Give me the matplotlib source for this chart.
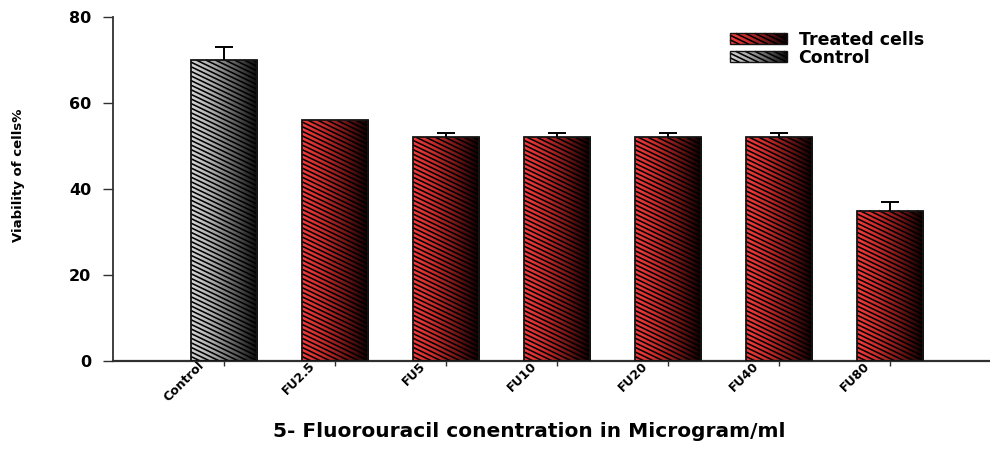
import numpy as np
import matplotlib
matplotlib.use("Agg")
import matplotlib.pyplot as plt
from matplotlib.patches import Rectangle
from matplotlib.collections import LineCollection
from matplotlib.colors import LinearSegmentedColormap
from matplotlib.legend_handler import HandlerBase
from matplotlib.transforms import ScaledTranslation

plt.rcParams['font.family'] = ['DejaVu Sans']

# ---- data -------------------------------------------------------------
categories = ["Control", "FU2.5", "FU5", "FU10", "FU20", "FU40", "FU80"]
viability = [70, 56, 52, 52, 52, 52, 35]
sem = [3, 0, 1, 1, 1, 1, 2]
is_control = [True, False, False, False, False, False, False]
legend_labels = ["Treated cells", "Control"]
yticks = [0, 20, 40, 60, 80]

# ---- style ------------------------------------------------------------
red_cmap = LinearSegmentedColormap.from_list(
    "redfade", ["#f43c3c", "#c42a2a", "#701414", "#080000"])
gray_cmap = LinearSegmentedColormap.from_list(
    "grayfade", ["#d6d6d6", "#a8a8a8", "#5c5c5c", "#080808"])

W, H, DPI = 9.9, 4.49, 100
fig = plt.figure(figsize=(W, H), dpi=DPI)
ax_left, ax_bottom, ax_w, ax_h = 113 / 990, 88 / 449, 877 / 990, 344 / 449
ax = fig.add_axes([ax_left, ax_bottom, ax_w, ax_h])

XMIN, XMAX = -1.0, 6.9
YMIN, YMAX = 0, 80
px_per_x = ax_w * W * DPI / (XMAX - XMIN)
px_per_y = ax_h * H * DPI / (YMAX - YMIN)

STRIPE_SLOPE = 0.48      # pixel drop per pixel to the right
STRIPE_PERIOD = 4.6      # vertical pixel spacing between stripes
STRIPE_LW = 1.15
BAR_W = 0.6


def stripe_segments(x0, y0, w, h, slope, period):
    """Diagonal stripes clipped to the rectangle (x0, y0, w, h), in isotropic units."""
    segs = []
    c = 0.0
    top = h + slope * w
    while c <= top + period:
        xa = max(0.0, (c - h) / slope)
        xb = min(w, c / slope)
        if xb > xa:
            segs.append([(x0 + xa, y0 + c - slope * xa),
                         (x0 + xb, y0 + c - slope * xb)])
        c += period
    return segs


def draw_bar(xc, value, cmap):
    x0 = xc - BAR_W / 2
    grad = np.linspace(0, 1, 256).reshape(1, -1)
    rect = Rectangle((x0, 0), BAR_W, value, facecolor="none",
                     edgecolor="#151515", lw=1.3, zorder=3)
    ax.add_patch(rect)
    im = ax.imshow(grad, cmap=cmap, extent=[x0, x0 + BAR_W, 0, value],
                   aspect="auto", interpolation="bilinear", zorder=2)
    im.set_clip_path(rect)
    # stripes computed in pixel space then mapped back to data units
    wpx, hpx = BAR_W * px_per_x, value * px_per_y
    segs_px = stripe_segments(0, 0, wpx, hpx, STRIPE_SLOPE, STRIPE_PERIOD)
    segs = [[(x0 + p[0] / px_per_x, p[1] / px_per_y) for p in s] for s in segs_px]
    lc = LineCollection(segs, colors="black", linewidths=STRIPE_LW, zorder=2.5)
    ax.add_collection(lc)


x = np.arange(len(categories))
for xi, v, ctl in zip(x, viability, is_control):
    draw_bar(xi, v, gray_cmap if ctl else red_cmap)

# upper error bars only
err_mask = np.array(sem) > 0
eb = ax.errorbar(x[err_mask], np.array(viability)[err_mask],
                 yerr=[np.zeros(err_mask.sum()), np.array(sem)[err_mask]],
                 fmt="none", ecolor="black", elinewidth=1.4,
                 capsize=6.8, capthick=1.4, zorder=4)
for cap in eb[1]:
    if np.allclose(cap.get_ydata(), np.array(viability)[err_mask]):
        cap.set_visible(False)
    else:
        cap.set_color("#606060")

ax.set_xlim(XMIN, XMAX)
ax.set_ylim(YMIN, YMAX)

# ---- axes styling -----------------------------------------------------
for side in ("top", "right"):
    ax.spines[side].set_visible(False)
ax.spines["left"].set_color("#303030")
ax.spines["left"].set_linewidth(1.3)
ax.spines["bottom"].set_color("#303030")
ax.spines["bottom"].set_linewidth(1.6)

ax.set_yticks(yticks)
ax.set_yticklabels([str(t) for t in yticks], fontsize=11.5, fontweight="bold")
ax.tick_params(axis="y", direction="out", length=7.2, width=1.0,
               color="#303030", pad=8.5)

ax.set_xticks(x)
ax.set_xticklabels(categories, rotation=45, ha="right", va="center",
                   rotation_mode="anchor", fontsize=9, fontweight="bold")
ax.tick_params(axis="x", direction="out", length=3.5, width=1.0,
               color="#303030", pad=-1.5)
shift = ScaledTranslation(-22 / 100, 0, fig.dpi_scale_trans)
for lbl in ax.get_xticklabels():
    lbl.set_transform(lbl.get_transform() + shift)

ax.set_xlabel("5- Fluorouracil conentration in Microgram/ml",
              fontsize=14.5, fontweight="bold", va="top")
ax.xaxis.set_label_coords((529 - 113) / 877, (361 - 422) / 344)
ax.set_ylabel("Viability of cells%", fontsize=9.5, fontweight="bold")
ax.yaxis.set_label_coords((25 - 113) / 877, (361 - 175) / 344)


# ---- legend -----------------------------------------------------------
class GradientStripeHandler(HandlerBase):
    def __init__(self, cmap):
        super().__init__()
        self.cmap = cmap

    def create_artists(self, legend, orig_handle, xdescent, ydescent,
                       width, height, fontsize, trans):
        x0, y0 = -xdescent, -ydescent
        arts = []
        n = 40
        for k in range(n):
            arts.append(Rectangle((x0 + width * k / n, y0), width / n + 0.05, height,
                                  facecolor=self.cmap((k + 0.5) / n),
                                  edgecolor="none", transform=trans))
        # legend units are points; convert pixel spacing to points
        per = STRIPE_PERIOD * 72 / DPI
        segs = stripe_segments(x0, y0, width, height, STRIPE_SLOPE, per)
        arts.append(LineCollection(segs, colors="black",
                                   linewidths=STRIPE_LW, transform=trans))
        arts.append(Rectangle((x0, y0), width, height, facecolor="none",
                              edgecolor="#151515", lw=1.0, transform=trans))
        return arts


h_treated = Rectangle((0, 0), 1, 1)
h_control = Rectangle((0, 0), 1, 1)
leg = ax.legend([h_treated, h_control], legend_labels,
                handler_map={h_treated: GradientStripeHandler(red_cmap),
                             h_control: GradientStripeHandler(gray_cmap)},
                loc="upper left", bbox_to_anchor=(730 / 990, 1 - 31 / 449),
                bbox_transform=fig.transFigure, frameon=False,
                prop={"weight": "bold", "size": 12.5},
                handlelength=3.3, handleheight=0.6, handletextpad=0.65,
                labelspacing=0.0, borderpad=0, borderaxespad=0)

fig.savefig("out.png", dpi=DPI)
